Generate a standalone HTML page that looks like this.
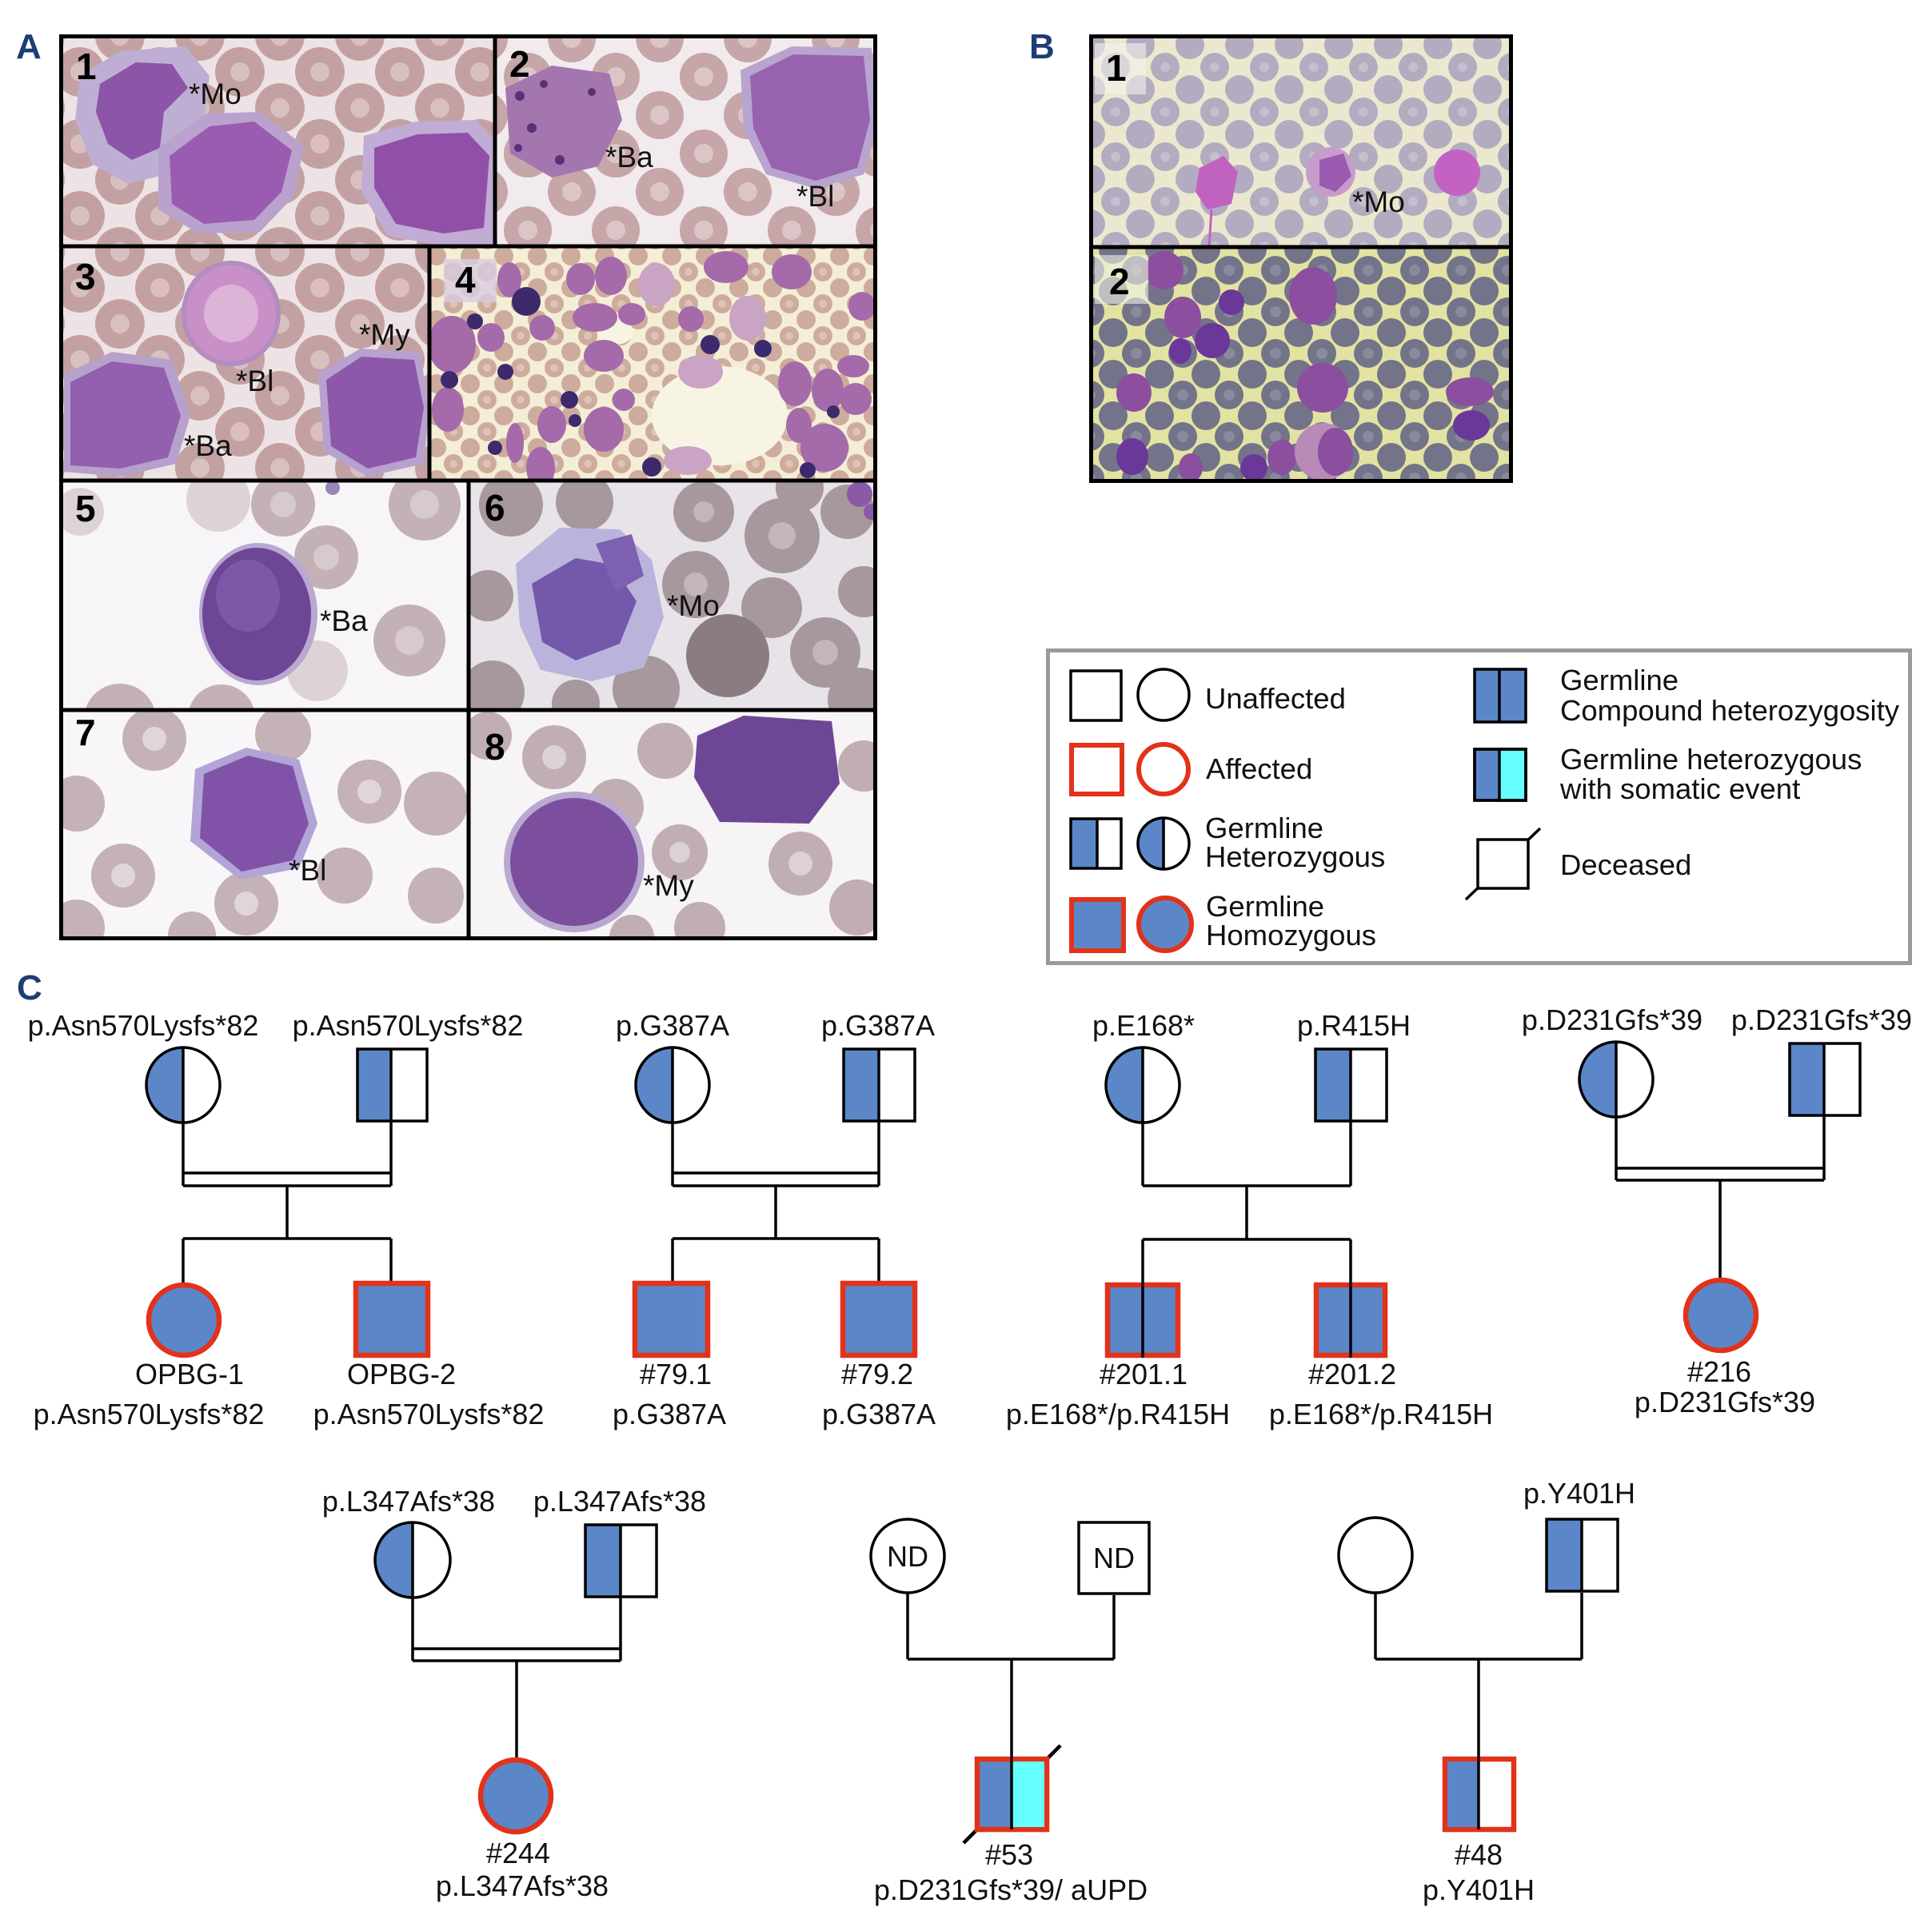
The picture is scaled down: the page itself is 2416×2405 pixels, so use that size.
<!DOCTYPE html>
<html><head><meta charset="utf-8"><style>
html,body{margin:0;padding:0;background:#fff;}
svg{display:block;}
text{font-family:"Liberation Sans",Arial,sans-serif;}
</style></head><body>
<svg width="2416" height="2405" viewBox="0 0 2416 2405" xmlns="http://www.w3.org/2000/svg">
<defs>
<pattern id="pA" width="100" height="90" patternUnits="userSpaceOnUse">
<rect width="100" height="90" fill="#ede3e5"/>
<g fill="#c3a1a3"><circle cx="50" cy="45" r="31"/><circle cx="0" cy="0" r="31"/><circle cx="100" cy="0" r="31"/><circle cx="0" cy="90" r="31"/><circle cx="100" cy="90" r="31"/></g>
<g fill="#d8bfc0"><circle cx="50" cy="45" r="12"/><circle cx="0" cy="0" r="12"/><circle cx="100" cy="0" r="12"/><circle cx="0" cy="90" r="12"/><circle cx="100" cy="90" r="12"/></g>
</pattern>
<pattern id="pA2" width="110" height="96" patternUnits="userSpaceOnUse">
<rect width="110" height="96" fill="#f2ebed"/>
<g fill="#c6a6a8"><circle cx="55" cy="48" r="30"/><circle cx="0" cy="0" r="30"/><circle cx="110" cy="0" r="30"/><circle cx="0" cy="96" r="30"/><circle cx="110" cy="96" r="30"/></g>
<g fill="#dcc5c6"><circle cx="55" cy="48" r="12"/><circle cx="0" cy="0" r="12"/><circle cx="110" cy="0" r="12"/><circle cx="0" cy="96" r="12"/><circle cx="110" cy="96" r="12"/></g>
</pattern>
<pattern id="p4" width="42" height="40" patternUnits="userSpaceOnUse">
<rect width="42" height="40" fill="#f5eed6"/>
<g fill="#cdab9d"><circle cx="21" cy="20" r="12"/><circle cx="0" cy="0" r="12"/><circle cx="42" cy="0" r="12"/><circle cx="0" cy="40" r="12"/><circle cx="42" cy="40" r="12"/></g>
<g fill="#dcc3b5"><circle cx="21" cy="20" r="5"/></g>
</pattern>
<pattern id="pB1" width="62" height="56" patternUnits="userSpaceOnUse">
<rect width="62" height="56" fill="#ebe8cf"/>
<g fill="#b3abc0"><circle cx="31" cy="28" r="18"/><circle cx="0" cy="0" r="18"/><circle cx="62" cy="0" r="18"/><circle cx="0" cy="56" r="18"/><circle cx="62" cy="56" r="18"/></g>
<g fill="#c4bece"><circle cx="31" cy="28" r="6"/></g>
</pattern>
<pattern id="pB2" width="58" height="52" patternUnits="userSpaceOnUse">
<rect width="58" height="52" fill="#e2e3a2"/>
<g fill="#73738a"><circle cx="29" cy="26" r="18"/><circle cx="0" cy="0" r="18"/><circle cx="58" cy="0" r="18"/><circle cx="0" cy="52" r="18"/><circle cx="58" cy="52" r="18"/></g>
<g fill="#8a8a9e"><circle cx="29" cy="26" r="7"/></g>
</pattern>
<clipPath id="c1"><rect x="74" y="43" width="545" height="265"/></clipPath>
<clipPath id="c2"><rect x="619" y="43" width="478" height="265"/></clipPath>
<clipPath id="c3"><rect x="74" y="308" width="463" height="293"/></clipPath>
<clipPath id="c4"><rect x="537" y="308" width="560" height="293"/></clipPath>
<clipPath id="c5"><rect x="74" y="601" width="512" height="287"/></clipPath>
<clipPath id="c6"><rect x="586" y="601" width="511" height="287"/></clipPath>
<clipPath id="c7"><rect x="74" y="888" width="512" height="288"/></clipPath>
<clipPath id="c8"><rect x="586" y="888" width="511" height="288"/></clipPath>
<clipPath id="cb1"><rect x="1362" y="43" width="530" height="266"/></clipPath>
<clipPath id="cb2"><rect x="1362" y="309" width="530" height="295"/></clipPath>
</defs>

<!-- Section labels -->
<text x="20" y="73" font-size="44" font-weight="bold" fill="#1d3d73">A</text>
<text x="1287" y="73" font-size="44" font-weight="bold" fill="#1d3d73">B</text>
<text x="21" y="1250" font-size="44" font-weight="bold" fill="#1d3d73">C</text>

<!-- ===== Panel A1 ===== -->
<g clip-path="url(#c1)">
<rect x="74" y="43" width="545" height="265" fill="url(#pA)"/>
<path d="M100,95 L150,64 L232,58 L262,95 L255,150 L220,215 L160,230 L115,205 L94,150 Z" fill="#bfaed3"/>
<path d="M125,105 L170,78 L215,80 L235,110 L205,140 L200,185 L165,200 L135,180 L120,140 Z" fill="#8c55a8"/>
<path d="M198,185 L258,142 L325,140 L380,182 L368,245 L325,290 L248,292 L198,262 Z" fill="#b9a2cd"/>
<path d="M212,195 L262,158 L318,152 L365,188 L352,240 L318,275 L255,280 L215,255 Z" fill="#9a5cb0"/>
<path d="M455,170 L520,152 L595,150 L619,175 L619,308 L555,308 L485,295 L452,240 Z" fill="#c0acd4"/>
<path d="M468,185 L522,168 L585,166 L612,195 L605,285 L555,292 L495,280 L468,235 Z" fill="#9050a8"/>
</g>
<text x="236" y="130" font-size="37" fill="#111">*Mo</text>
<text x="95" y="99" font-size="46" font-weight="bold" fill="#000">1</text>

<!-- ===== Panel A2 ===== -->
<g clip-path="url(#c2)">
<rect x="619" y="43" width="478" height="265" fill="url(#pA2)"/>
<path d="M632,110 L690,82 L762,92 L778,150 L748,208 L690,222 L638,192 Z" fill="#a476b0"/>
<g fill="#5a2f7a"><circle cx="650" cy="120" r="6"/><circle cx="665" cy="160" r="6"/><circle cx="648" cy="185" r="5"/><circle cx="680" cy="105" r="5"/><circle cx="700" cy="200" r="6"/><circle cx="740" cy="115" r="5"/></g>
<path d="M926,88 L990,58 L1090,60 L1097,150 L1080,218 L1020,236 L958,218 L930,162 Z" fill="#b7a5d0"/>
<path d="M938,95 L992,68 L1080,70 L1088,150 L1072,210 L1020,226 L965,210 L942,160 Z" fill="#9863ae"/>
</g>
<text x="637" y="96" font-size="46" font-weight="bold" fill="#000">2</text>
<text x="757" y="209" font-size="37" fill="#111">*Ba</text>
<text x="996" y="258" font-size="37" fill="#111">*Bl</text>

<!-- ===== Panel A3 ===== -->
<g clip-path="url(#c3)">
<rect x="74" y="308" width="463" height="293" fill="url(#pA)"/>
<ellipse cx="289" cy="392" rx="62" ry="66" fill="#b38dc0"/>
<ellipse cx="289" cy="392" rx="56" ry="60" fill="#c990c8"/>
<ellipse cx="289" cy="392" rx="34" ry="36" fill="#dcb4d8"/>
<path d="M80,468 L140,440 L215,450 L238,520 L220,580 L150,596 L80,590 Z" fill="#b6a0cc"/>
<path d="M88,478 L140,452 L205,460 L226,520 L210,572 L150,586 L88,582 Z" fill="#9260ae"/>
<path d="M398,468 L450,436 L525,440 L537,510 L530,580 L460,596 L405,565 Z" fill="#b7a2cf"/>
<path d="M408,475 L452,446 L518,450 L530,510 L520,572 L460,586 L414,558 Z" fill="#8e58aa"/>
</g>
<text x="94" y="362" font-size="46" font-weight="bold" fill="#000">3</text>
<text x="449" y="431" font-size="37" fill="#111">*My</text>
<text x="295" y="489" font-size="37" fill="#111">*Bl</text>
<text x="230" y="570" font-size="37" fill="#111">*Ba</text>

<!-- ===== Panel A4 ===== -->
<g clip-path="url(#c4)">
<rect x="537" y="308" width="560" height="293" fill="url(#p4)"/>
<ellipse cx="900" cy="520" rx="85" ry="62" fill="#f8f4e4"/>
<ellipse cx="770" cy="415" rx="22" ry="16" fill="#f8f4e4"/>
<g fill="#a46aaa">
<ellipse cx="565" cy="431" rx="30" ry="36"/>
<ellipse cx="614" cy="422" rx="17" ry="18"/>
<ellipse cx="678" cy="410" rx="16" ry="16"/>
<ellipse cx="637" cy="350" rx="15" ry="22"/>
<ellipse cx="726" cy="349" rx="18" ry="20"/>
<ellipse cx="764" cy="345" rx="20" ry="24"/>
<ellipse cx="744" cy="397" rx="28" ry="18"/>
<ellipse cx="755" cy="445" rx="25" ry="20"/>
<ellipse cx="790" cy="393" rx="17" ry="14"/>
<ellipse cx="864" cy="399" rx="16" ry="16"/>
<ellipse cx="908" cy="334" rx="28" ry="20"/>
<ellipse cx="990" cy="340" rx="25" ry="22"/>
<ellipse cx="1078" cy="383" rx="17" ry="18"/>
<ellipse cx="1067" cy="458" rx="20" ry="14"/>
<ellipse cx="994" cy="480" rx="21" ry="28"/>
<ellipse cx="1035" cy="488" rx="20" ry="27"/>
<ellipse cx="1070" cy="499" rx="20" ry="20"/>
<ellipse cx="999" cy="532" rx="16" ry="22"/>
<ellipse cx="1031" cy="560" rx="30" ry="30"/>
<ellipse cx="755" cy="537" rx="25" ry="28"/>
<ellipse cx="690" cy="531" rx="18" ry="23"/>
<ellipse cx="560" cy="512" rx="20" ry="28"/>
<ellipse cx="644" cy="554" rx="11" ry="25"/>
<ellipse cx="780" cy="500" rx="14" ry="14"/>
<ellipse cx="676" cy="585" rx="18" ry="26"/>
</g>
<g fill="#c9a4c4">
<ellipse cx="821" cy="356" rx="23" ry="27"/>
<ellipse cx="935" cy="398" rx="23" ry="28"/>
<ellipse cx="876" cy="465" rx="28" ry="21"/>
<ellipse cx="860" cy="576" rx="30" ry="18"/>
</g>
<g fill="#3d2a6c">
<circle cx="888" cy="431" r="12"/><circle cx="954" cy="436" r="11"/><circle cx="562" cy="475" r="11"/>
<circle cx="632" cy="465" r="10"/><circle cx="712" cy="500" r="11"/><circle cx="719" cy="526" r="8"/>
<circle cx="619" cy="560" r="9"/><circle cx="815" cy="584" r="12"/><circle cx="1010" cy="588" r="10"/>
<circle cx="1042" cy="515" r="8"/><circle cx="594" cy="402" r="10"/><circle cx="658" cy="377" r="18"/>
</g>
<rect x="555" y="324" width="66" height="54" fill="#d8cce0" opacity="0.8"/>
</g>
<text x="569" y="366" font-size="46" font-weight="bold" fill="#000">4</text>

<!-- ===== Panel A5 ===== -->
<g clip-path="url(#c5)">
<rect x="74" y="601" width="512" height="287" fill="#f7f5f7"/>
<g fill="#c3b1b5">
<circle cx="354" cy="631" r="40"/><circle cx="408" cy="697" r="40"/><circle cx="531" cy="631" r="45"/>
<circle cx="512" cy="801" r="45"/><circle cx="150" cy="900" r="45"/><circle cx="277" cy="898" r="42"/>
</g>
<g fill="#ddd3d7"><circle cx="273" cy="625" r="40"/><circle cx="397" cy="839" r="38"/><circle cx="100" cy="640" r="30"/></g>
<g fill="#d6cacd"><circle cx="354" cy="631" r="16"/><circle cx="408" cy="697" r="16"/><circle cx="531" cy="631" r="18"/><circle cx="512" cy="801" r="18"/></g>
<ellipse cx="323" cy="768" rx="74" ry="89" fill="#b8a8d2"/>
<ellipse cx="321" cy="768" rx="68" ry="83" fill="#6e4696"/>
<ellipse cx="310" cy="745" rx="40" ry="45" fill="#7e58a6"/>
<circle cx="416" cy="610" r="9" fill="#9a84b8"/>
</g>
<text x="94" y="652" font-size="46" font-weight="bold" fill="#000">5</text>
<text x="400" y="789" font-size="37" fill="#111">*Ba</text>

<!-- ===== Panel A6 ===== -->
<g clip-path="url(#c6)">
<rect x="586" y="601" width="511" height="287" fill="#e8e3e9"/>
<g fill="#a6989d">
<circle cx="639" cy="631" r="40"/><circle cx="731" cy="628" r="36"/><circle cx="870" cy="731" r="42"/>
<circle cx="978" cy="670" r="47"/><circle cx="1060" cy="640" r="34"/><circle cx="1032" cy="816" r="44"/>
<circle cx="616" cy="866" r="40"/><circle cx="808" cy="862" r="42"/><circle cx="1075" cy="875" r="40"/>
<circle cx="1080" cy="740" r="32"/><circle cx="965" cy="760" r="38"/><circle cx="880" cy="640" r="38"/>
<circle cx="610" cy="745" r="32"/><circle cx="1000" cy="610" r="30"/><circle cx="720" cy="880" r="30"/>
</g>
<circle cx="910" cy="820" r="52" fill="#8a7d82"/>
<g fill="#c2b6ba"><circle cx="870" cy="731" r="15"/><circle cx="978" cy="670" r="17"/><circle cx="1032" cy="816" r="16"/><circle cx="880" cy="640" r="13"/></g>
<g fill="#8a5aa6"><circle cx="1075" cy="618" r="16"/><circle cx="1090" cy="640" r="10"/></g>
<path d="M645,705 L700,660 L775,662 L815,700 L830,772 L805,835 L740,852 L676,838 L650,782 Z" fill="#bab4dc"/>
<path d="M665,730 L720,698 L765,706 L796,752 L775,805 L720,826 L678,803 Z" fill="#7458aa"/>
<path d="M745,680 L790,668 L805,720 L770,740 Z" fill="#7d60b0"/>
</g>
<text x="606" y="651" font-size="46" font-weight="bold" fill="#000">6</text>
<text x="834" y="770" font-size="37" fill="#111">*Mo</text>

<!-- ===== Panel A7 ===== -->
<g clip-path="url(#c7)">
<rect x="74" y="888" width="512" height="288" fill="#f8f6f8"/>
<g fill="#c4b2b6">
<circle cx="193" cy="924" r="40"/><circle cx="354" cy="918" r="35"/><circle cx="462" cy="990" r="40"/>
<circle cx="545" cy="1005" r="40"/><circle cx="96" cy="1005" r="35"/><circle cx="154" cy="1095" r="40"/>
<circle cx="308" cy="1130" r="40"/><circle cx="431" cy="1095" r="35"/><circle cx="545" cy="1120" r="35"/>
<circle cx="96" cy="1160" r="35"/><circle cx="240" cy="1170" r="30"/>
</g>
<g fill="#e0d6da"><circle cx="193" cy="924" r="15"/><circle cx="462" cy="990" r="15"/><circle cx="308" cy="1130" r="15"/><circle cx="154" cy="1095" r="15"/></g>
<path d="M244,962 L308,935 L374,950 L397,1030 L374,1086 L300,1100 L238,1052 Z" fill="#b2a4d6"/>
<path d="M255,968 L310,945 L366,958 L386,1030 L366,1076 L302,1090 L250,1048 Z" fill="#8153a8"/>
</g>
<text x="94" y="932" font-size="46" font-weight="bold" fill="#000">7</text>
<text x="361" y="1101" font-size="37" fill="#111">*Bl</text>

<!-- ===== Panel A8 ===== -->
<g clip-path="url(#c8)">
<rect x="586" y="888" width="511" height="288" fill="#f7f4f6"/>
<g fill="#c0aeb2">
<circle cx="693" cy="947" r="40"/><circle cx="832" cy="939" r="35"/><circle cx="770" cy="1009" r="35"/>
<circle cx="850" cy="1066" r="35"/><circle cx="1080" cy="958" r="32"/><circle cx="1001" cy="1080" r="40"/>
<circle cx="1072" cy="1135" r="35"/><circle cx="875" cy="1160" r="32"/><circle cx="610" cy="920" r="30"/>
<circle cx="790" cy="1172" r="28"/>
</g>
<g fill="#dcd1d5"><circle cx="693" cy="947" r="15"/><circle cx="1001" cy="1080" r="15"/><circle cx="850" cy="1066" r="13"/></g>
<path d="M872,920 L930,895 L1040,902 L1050,980 L1012,1030 L900,1028 L868,972 Z" fill="#6d4795"/>
<circle cx="718" cy="1078" r="88" fill="#b9a8d0"/>
<circle cx="718" cy="1078" r="80" fill="#7c4f9e"/>
</g>
<text x="606" y="950" font-size="46" font-weight="bold" fill="#000">8</text>
<text x="804" y="1120" font-size="37" fill="#111">*My</text>

<!-- Panel A frame -->
<g stroke="#000" stroke-width="5" fill="none">
<rect x="76.5" y="45.5" width="1018" height="1128"/>
<line x1="74" y1="308" x2="1097" y2="308"/>
<line x1="619" y1="43" x2="619" y2="308"/>
<line x1="74" y1="601" x2="1097" y2="601"/>
<line x1="537" y1="308" x2="537" y2="601"/>
<line x1="74" y1="888" x2="1097" y2="888"/>
<line x1="586" y1="601" x2="586" y2="1176"/>
</g>

<!-- ===== Panel B1 ===== -->
<g clip-path="url(#cb1)">
<rect x="1362" y="43" width="530" height="266" fill="url(#pB1)"/>
<path d="M1500,210 L1530,195 L1548,215 L1540,255 L1510,262 L1495,240 Z" fill="#c063c0"/>
<line x1="1515" y1="262" x2="1512" y2="309" stroke="#c063c0" stroke-width="3"/>
<circle cx="1664" cy="215" r="31" fill="#c79ccc"/>
<path d="M1650,200 L1680,192 L1690,220 L1670,240 L1650,232 Z" fill="#9a5ab0"/>
<circle cx="1822" cy="216" r="29" fill="#c462c4"/>
<rect x="1369" y="54" width="64" height="64" fill="#f4f2ec" opacity="0.6"/>
</g>
<text x="1383" y="101" font-size="46" font-weight="bold" fill="#000">1</text>
<text x="1691" y="265" font-size="37" fill="#111">*Mo</text>

<!-- ===== Panel B2 ===== -->
<g clip-path="url(#cb2)">
<rect x="1362" y="309" width="530" height="295" fill="url(#pB2)"/>
<g fill="#8c4e9e">
<ellipse cx="1456" cy="338" rx="24" ry="24"/>
<ellipse cx="1479" cy="397" rx="23" ry="26"/>
<ellipse cx="1642" cy="370" rx="30" ry="36"/>
<ellipse cx="1654" cy="485" rx="32" ry="31"/>
<ellipse cx="1418" cy="491" rx="22" ry="24"/>
<ellipse cx="1838" cy="490" rx="30" ry="18"/>
<ellipse cx="1603" cy="572" rx="18" ry="22"/>
<ellipse cx="1489" cy="585" rx="15" ry="18"/>
</g>
<g fill="#6a3898">
<ellipse cx="1516" cy="426" rx="22" ry="22"/>
<ellipse cx="1476" cy="439" rx="14" ry="16"/>
<ellipse cx="1540" cy="378" rx="16" ry="16"/>
<ellipse cx="1840" cy="532" rx="23" ry="19"/>
<ellipse cx="1416" cy="571" rx="20" ry="23"/>
<ellipse cx="1568" cy="585" rx="17" ry="17"/>
</g>
<ellipse cx="1655" cy="565" rx="36" ry="36" fill="#b88ab8"/>
<ellipse cx="1670" cy="565" rx="22" ry="30" fill="#8c4e9e"/>
<rect x="1369" y="319" width="67" height="61" fill="#f2f2e6" opacity="0.6"/>
</g>
<text x="1387" y="368" font-size="46" font-weight="bold" fill="#000">2</text>

<g stroke="#000" stroke-width="5" fill="none">
<rect x="1364.5" y="45.5" width="525" height="556"/>
<line x1="1362" y1="309" x2="1892" y2="309"/>
</g>

<!-- ===== Legend ===== -->
<rect x="1310.5" y="813.5" width="1078" height="391" fill="#fff" stroke="#9a9a9a" stroke-width="5"/>
<g stroke="#000" stroke-width="3.5" fill="#fff">
<rect x="1339" y="839" width="63" height="62"/>
<circle cx="1455" cy="869" r="32"/>
</g>
<g stroke="#e2321a" stroke-width="6" fill="#fff">
<rect x="1340" y="932" width="63" height="61"/>
<circle cx="1455" cy="962" r="31"/>
</g>
<rect x="1339" y="1024" width="33" height="62" fill="#5b87c8"/>
<path d="M1455,1023 A32,32 0 0 0 1455,1087 Z" fill="#5b87c8"/>
<g stroke="#000" stroke-width="3.5" fill="none">
<rect x="1339" y="1024" width="63" height="62"/>
<line x1="1372" y1="1024" x2="1372" y2="1086"/>
<circle cx="1455" cy="1055" r="32"/>
<line x1="1455" y1="1023" x2="1455" y2="1087"/>
</g>
<g stroke="#e2321a" stroke-width="6" fill="#5b87c8">
<rect x="1340" y="1125" width="65" height="64"/>
<circle cx="1457" cy="1156" r="33"/>
</g>
<g stroke="#000" stroke-width="3.5">
<rect x="1844" y="837" width="64" height="66" fill="#5b87c8"/>
<line x1="1875" y1="837" x2="1875" y2="903"/>
<rect x="1844" y="937" width="64" height="64" fill="#5b87c8"/>
<rect x="1875" y="937" width="33" height="64" fill="#66ffff"/>
<rect x="1844" y="937" width="64" height="64" fill="none"/>
<line x1="1833" y1="1125" x2="1926" y2="1036"/>
<rect x="1848" y="1050" width="63" height="61" fill="#fff"/>
</g>
<g font-size="36.5" fill="#111">
<text x="1507" y="886">Unaffected</text>
<text x="1508" y="974">Affected</text>
<text x="1507" y="1048">Germline</text>
<text x="1507" y="1084">Heterozygous</text>
<text x="1508" y="1146">Germline</text>
<text x="1508" y="1182">Homozygous</text>
<text x="1951" y="863">Germline</text>
<text x="1951" y="901">Compound heterozygosity</text>
<text x="1951" y="962">Germline heterozygous</text>
<text x="1951" y="999">with somatic event</text>
<text x="1951" y="1094">Deceased</text>
</g>

<!-- ===== Pedigrees ===== -->
<g stroke="#000" stroke-width="3.5" fill="none">
<line x1="229" y1="1404" x2="229" y2="1483"/>
<line x1="489" y1="1403" x2="489" y2="1483"/>
<line x1="229" y1="1467" x2="489" y2="1467"/>
<line x1="229" y1="1483" x2="489" y2="1483"/>
<line x1="359" y1="1483" x2="359" y2="1549"/>
<line x1="229" y1="1549" x2="489" y2="1549"/>
<line x1="229" y1="1549" x2="229" y2="1604"/>
<line x1="489" y1="1549" x2="489" y2="1603"/>
<line x1="841" y1="1404" x2="841" y2="1483"/>
<line x1="1099" y1="1403" x2="1099" y2="1483"/>
<line x1="841" y1="1467" x2="1099" y2="1467"/>
<line x1="841" y1="1483" x2="1099" y2="1483"/>
<line x1="970" y1="1483" x2="970" y2="1549"/>
<line x1="841" y1="1549" x2="1099" y2="1549"/>
<line x1="841" y1="1549" x2="841" y2="1603"/>
<line x1="1099" y1="1549" x2="1099" y2="1603"/>
<line x1="1429" y1="1404" x2="1429" y2="1483"/>
<line x1="1689" y1="1403" x2="1689" y2="1483"/>
<line x1="1429" y1="1483" x2="1689" y2="1483"/>
<line x1="1559" y1="1483" x2="1559" y2="1550"/>
<line x1="1429" y1="1550" x2="1689" y2="1550"/>
<line x1="1429" y1="1550" x2="1429" y2="1604"/>
<line x1="1689" y1="1550" x2="1689" y2="1604"/>
<line x1="2021" y1="1397" x2="2021" y2="1476"/>
<line x1="2281" y1="1396" x2="2281" y2="1476"/>
<line x1="2021" y1="1461" x2="2281" y2="1461"/>
<line x1="2021" y1="1476" x2="2281" y2="1476"/>
<line x1="2151" y1="1476" x2="2151" y2="1598"/>
<line x1="516" y1="1998" x2="516" y2="2077"/>
<line x1="776" y1="1998" x2="776" y2="2077"/>
<line x1="516" y1="2062" x2="776" y2="2062"/>
<line x1="516" y1="2077" x2="776" y2="2077"/>
<line x1="646" y1="2077" x2="646" y2="2199"/>
<line x1="1135" y1="1992" x2="1135" y2="2075"/>
<line x1="1393" y1="1995" x2="1393" y2="2075"/>
<line x1="1135" y1="2075" x2="1393" y2="2075"/>
<line x1="1265" y1="2075" x2="1265" y2="2197"/>
<line x1="1720" y1="1992" x2="1720" y2="2075"/>
<line x1="1978" y1="1992" x2="1978" y2="2075"/>
<line x1="1720" y1="2075" x2="1978" y2="2075"/>
<line x1="1849" y1="2075" x2="1849" y2="2197"/>
</g>

<g>
<path d="M229,1310 A46,47 0 0 0 229,1404 Z" fill="#5b87c8"/>
<ellipse cx="229" cy="1357" rx="46" ry="47" fill="none" stroke="#000" stroke-width="3.5"/>
<line x1="229" y1="1310" x2="229" y2="1404" stroke="#000" stroke-width="3.5"/>
<path d="M841,1310 A46,47 0 0 0 841,1404 Z" fill="#5b87c8"/>
<ellipse cx="841" cy="1357" rx="46" ry="47" fill="none" stroke="#000" stroke-width="3.5"/>
<line x1="841" y1="1310" x2="841" y2="1404" stroke="#000" stroke-width="3.5"/>
<path d="M1429,1310 A46,47 0 0 0 1429,1404 Z" fill="#5b87c8"/>
<ellipse cx="1429" cy="1357" rx="46" ry="47" fill="none" stroke="#000" stroke-width="3.5"/>
<line x1="1429" y1="1310" x2="1429" y2="1404" stroke="#000" stroke-width="3.5"/>
<path d="M2021,1303 A46,47 0 0 0 2021,1397 Z" fill="#5b87c8"/>
<ellipse cx="2021" cy="1350" rx="46" ry="47" fill="none" stroke="#000" stroke-width="3.5"/>
<line x1="2021" y1="1303" x2="2021" y2="1397" stroke="#000" stroke-width="3.5"/>
<path d="M516,1904 A47,47 0 0 0 516,1998 Z" fill="#5b87c8"/>
<ellipse cx="516" cy="1951" rx="47" ry="47" fill="none" stroke="#000" stroke-width="3.5"/>
<line x1="516" y1="1904" x2="516" y2="1998" stroke="#000" stroke-width="3.5"/>
</g>

<g stroke="#000" stroke-width="3.5">
<rect x="447" y="1312" width="42" height="90" fill="#5b87c8" stroke="none"/>
<rect x="447" y="1312" width="87" height="90" fill="none"/>
<line x1="489" y1="1312" x2="489" y2="1402"/>
<rect x="1055" y="1312" width="44" height="90" fill="#5b87c8" stroke="none"/>
<rect x="1055" y="1312" width="89" height="90" fill="none"/>
<line x1="1099" y1="1312" x2="1099" y2="1402"/>
<rect x="1645" y="1312" width="44" height="90" fill="#5b87c8" stroke="none"/>
<rect x="1645" y="1312" width="89" height="90" fill="none"/>
<line x1="1689" y1="1312" x2="1689" y2="1402"/>
<rect x="2238" y="1305" width="43" height="90" fill="#5b87c8" stroke="none"/>
<rect x="2238" y="1305" width="88" height="90" fill="none"/>
<line x1="2281" y1="1305" x2="2281" y2="1395"/>
<rect x="732" y="1907" width="44" height="90" fill="#5b87c8" stroke="none"/>
<rect x="732" y="1907" width="89" height="90" fill="none"/>
<line x1="776" y1="1907" x2="776" y2="1997"/>
<rect x="1934" y="1900" width="44" height="90" fill="#5b87c8" stroke="none"/>
<rect x="1934" y="1900" width="89" height="90" fill="none"/>
<line x1="1978" y1="1900" x2="1978" y2="1990"/>
<ellipse cx="1135" cy="1946" rx="46" ry="46" fill="#fff"/>
<rect x="1349" y="1904" width="88" height="89" fill="#fff"/>
<ellipse cx="1720" cy="1945" rx="46" ry="47" fill="#fff"/>
</g>

<g stroke="#e2321a" stroke-width="6.5" fill="#5b87c8">
<ellipse cx="230" cy="1651" rx="44" ry="44"/>
<rect x="445" y="1605" width="90" height="90"/>
<rect x="794" y="1605" width="91" height="90"/>
<rect x="1054" y="1605" width="90" height="90"/>
<rect x="1385" y="1607" width="88" height="88"/>
<rect x="1646" y="1607" width="86" height="88"/>
<ellipse cx="2152" cy="1645" rx="44" ry="44"/>
<ellipse cx="645" cy="2246" rx="44" ry="45"/>
</g>
<g stroke="#000" stroke-width="3.5">
<line x1="1429" y1="1604" x2="1429" y2="1698"/>
<line x1="1689" y1="1604" x2="1689" y2="1698"/>
</g>
<line x1="1205" y1="2305" x2="1326" y2="2183" stroke="#000" stroke-width="4.5"/>
<rect x="1222" y="2200" width="87" height="88" fill="#5b87c8" stroke="#e2321a" stroke-width="6.5"/>
<rect x="1265" y="2203" width="41" height="82" fill="#66ffff"/>
<line x1="1265" y1="2197" x2="1265" y2="2288" stroke="#000" stroke-width="3.5"/>
<rect x="1807" y="2200" width="86" height="88" fill="#fff" stroke="#e2321a" stroke-width="6.5"/>
<rect x="1810" y="2203" width="39" height="82" fill="#5b87c8"/>
<line x1="1849" y1="2197" x2="1849" y2="2288" stroke="#000" stroke-width="3.5"/>

<g font-size="36" fill="#111" text-anchor="middle">
<text x="179" y="1295">p.Asn570Lysfs*82</text>
<text x="510" y="1295">p.Asn570Lysfs*82</text>
<text x="841" y="1295">p.G387A</text>
<text x="1098" y="1295">p.G387A</text>
<text x="1430" y="1295">p.E168*</text>
<text x="1693" y="1295">p.R415H</text>
<text x="2016" y="1288">p.D231Gfs*39</text>
<text x="2278" y="1288">p.D231Gfs*39</text>
<text x="237" y="1731">OPBG-1</text>
<text x="502" y="1731">OPBG-2</text>
<text x="845" y="1731">#79.1</text>
<text x="1097" y="1731">#79.2</text>
<text x="1430" y="1731">#201.1</text>
<text x="1691" y="1731">#201.2</text>
<text x="2150" y="1728">#216</text>
<text x="186" y="1781">p.Asn570Lysfs*82</text>
<text x="536" y="1781">p.Asn570Lysfs*82</text>
<text x="837" y="1781">p.G387A</text>
<text x="1099" y="1781">p.G387A</text>
<text x="1398" y="1781">p.E168*/p.R415H</text>
<text x="1727" y="1781">p.E168*/p.R415H</text>
<text x="2157" y="1766">p.D231Gfs*39</text>
<text x="511" y="1890">p.L347Afs*38</text>
<text x="775" y="1890">p.L347Afs*38</text>
<text x="1975" y="1880">p.Y401H</text>
<text x="1135" y="1959">ND</text>
<text x="1393" y="1961">ND</text>
<text x="648" y="2330">#244</text>
<text x="653" y="2371">p.L347Afs*38</text>
<text x="1262" y="2332">#53</text>
<text x="1264" y="2376">p.D231Gfs*39/ aUPD</text>
<text x="1849" y="2332">#48</text>
<text x="1849" y="2376">p.Y401H</text>
</g>
</svg>
</body></html>
